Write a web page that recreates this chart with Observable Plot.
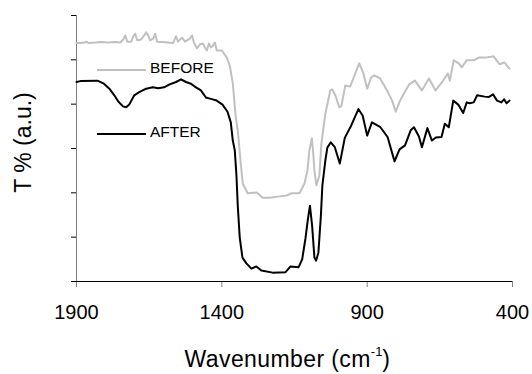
<!DOCTYPE html>
<html>
<head>
<meta charset="utf-8">
<script src="https://cdn.jsdelivr.net/npm/d3@7"></script>
<script src="https://cdn.jsdelivr.net/npm/@observablehq/plot@0.6"></script>
<style>
  html, body { margin: 0; padding: 0; background: #fff; }
  #wrap { position: relative; width: 532px; height: 374px; font-family: "Liberation Sans", Arial, sans-serif; color: #000; }
  #wrap svg { position: absolute; left: 0; top: 0; font-family: "Liberation Sans", Arial, sans-serif; }
  .leg-line { position: absolute; left: 97px; width: 49px; height: 2px; }
  .leg-text { position: absolute; left: 150px; font-size: 15.5px; line-height: 16px; white-space: nowrap; }
  #xtitle { position: absolute; left: 0; width: 575px; top: 348px; text-align: center; font-size: 23px; line-height: 23px; letter-spacing: 0.4px; white-space: nowrap; }
  #xtitle sup { font-size: 13px; line-height: 0; position: relative; top: -2px; vertical-align: super; letter-spacing: 0; }
</style>
</head>
<body>
<div id="wrap"></div>
<script>
// Series names and colours
const seriesNames = ["BEFORE", "AFTER"];
const seriesColors = ["#c0c0c0", "#000000"];

// X tick labels (wavenumber, cm-1)
const xTicks = [1900, 1400, 900, 400];
// Y ticks (arbitrary units, no labels)
const yTicks = [0, 10, 20, 30, 40, 50, 60];

// BEFORE spectrum (grey)
const beforeWave = [1900, 1886.3, 1872.6, 1865.8, 1858.9, 1834.9, 1817.8, 1790.4, 1766.4, 1749.3, 1739.0, 1732.2, 1725.3, 1711.6, 1704.8, 1697.9, 1691.1, 1677.4, 1667.1, 1660.3, 1653.4, 1646.6, 1636.3, 1629.4, 1622.6, 1605.5, 1584.9, 1567.8, 1557.5, 1550.7, 1537.0, 1526.7, 1509.6, 1502.7, 1495.9, 1485.6, 1475.3, 1465.1, 1458.2, 1451.4, 1444.5, 1437.7, 1430.8, 1424.0, 1417.1, 1400.0, 1382.9, 1372.6, 1362.3, 1352.0, 1345.2, 1335.9, 1328.1, 1311.0, 1280.1, 1259.6, 1235.6, 1201.4, 1177.4, 1160.3, 1132.9, 1115.8, 1105.5, 1098.6, 1090.1, 1084.9, 1081.5, 1074.7, 1064.4, 1057.5, 1043.8, 1026.7, 1019.8, 1009.6, 995.9, 989.0, 975.3, 958.2, 941.1, 927.4, 913.7, 900.0, 886.3, 876.0, 855.5, 831.5, 814.4, 801.7, 786.9, 773.3, 756.1, 735.6, 711.6, 687.6, 664.7, 643.1, 622.6, 615.7, 602.0, 584.9, 574.6, 557.5, 533.5, 516.4, 492.4, 465.0, 444.5, 427.4, 417.1, 410.3];
const beforeT = [53.8, 53.8, 53.9, 54.1, 53.8, 53.9, 54.0, 53.9, 54.0, 53.9, 54.6, 55.5, 54.1, 54.1, 55.3, 55.9, 54.4, 54.6, 55.5, 56.2, 55.5, 54.4, 54.8, 55.9, 54.1, 54.0, 53.9, 53.8, 55.3, 54.1, 55.0, 54.1, 54.8, 55.5, 53.9, 52.6, 53.5, 53.7, 52.8, 52.1, 53.7, 52.8, 53.2, 53.9, 52.1, 52.1, 50.5, 48.7, 44.7, 37.0, 34.1, 27.3, 22.1, 19.9, 20.1, 18.9, 18.9, 19.2, 19.4, 19.9, 19.9, 22.1, 25.0, 29.6, 32.3, 28.4, 25.0, 21.7, 23.9, 31.1, 37.9, 43.1, 43.3, 42.0, 39.3, 39.5, 44.2, 44.0, 46.9, 49.2, 47.1, 43.5, 46.0, 46.5, 45.8, 43.1, 40.8, 38.3, 40.8, 42.4, 44.4, 45.3, 43.1, 45.8, 43.1, 44.9, 46.9, 45.3, 49.9, 49.2, 48.3, 49.9, 49.9, 50.5, 50.5, 50.8, 49.0, 49.4, 48.5, 48.0];

// AFTER spectrum (black)
const afterWave = [1900, 1886.3, 1828.1, 1807.5, 1787.0, 1769.9, 1756.2, 1740.1, 1728.8, 1718.5, 1701.4, 1684.2, 1660.3, 1637.3, 1619.2, 1598.6, 1581.5, 1557.5, 1540.4, 1523.3, 1506.2, 1489.0, 1471.9, 1454.8, 1437.7, 1420.5, 1397.6, 1380.5, 1369.2, 1362.3, 1355.5, 1349.7, 1345.2, 1338.4, 1329.1, 1315.4, 1298.3, 1281.2, 1264.0, 1225.3, 1180.8, 1163.7, 1136.3, 1123.6, 1112.3, 1104.4, 1096.9, 1089.4, 1081.5, 1075.7, 1067.8, 1059.2, 1054.1, 1043.8, 1037.0, 1025.0, 1011.3, 994.2, 977.0, 954.8, 930.1, 915.4, 900.0, 883.6, 854.4, 829.8, 805.8, 788.7, 769.8, 750.3, 739.0, 721.9, 711.6, 692.8, 677.4, 663.7, 644.2, 632.8, 619.2, 603.8, 586.7, 569.6, 557.5, 547.5, 533.5, 521.5, 495.9, 482.1, 466.9, 453.2, 438.6, 429.1, 420.5, 410.3];
const afterT = [45.0, 45.2, 45.3, 44.7, 43.5, 42.0, 40.6, 39.5, 39.3, 39.9, 42.0, 42.7, 43.5, 43.8, 43.6, 43.8, 44.4, 45.0, 45.6, 45.0, 44.6, 43.8, 43.1, 41.5, 41.2, 40.9, 39.9, 38.3, 35.9, 31.8, 29.6, 23.9, 17.1, 9.9, 5.4, 4.1, 2.9, 3.4, 2.5, 2.0, 2.1, 3.4, 3.2, 5.0, 9.7, 13.8, 17.1, 12.6, 5.4, 4.7, 6.5, 14.9, 21.7, 27.3, 30.2, 31.4, 30.3, 26.6, 32.4, 35.2, 38.9, 37.4, 32.9, 35.9, 34.8, 32.6, 27.1, 29.8, 30.7, 34.1, 34.8, 32.7, 30.3, 34.6, 31.8, 32.5, 32.6, 35.6, 34.8, 40.8, 39.9, 38.0, 40.4, 40.2, 40.4, 42.0, 41.7, 41.6, 42.2, 40.8, 40.4, 41.1, 40.2, 40.8];

const before = beforeWave.map((w, i) => ({w, t: beforeT[i]}));
const after = afterWave.map((w, i) => ({w, t: afterT[i]}));

const chart = Plot.plot({
  width: 532,
  height: 374,
  marginLeft: 76,
  marginRight: 20,
  marginTop: 15,
  marginBottom: 93,
  style: {fontFamily: "'Liberation Sans', Arial, sans-serif", background: "white", color: "black"},
  x: {domain: [1900, 400]},
  y: {domain: [0, 60]},
  marks: [
    Plot.axisX({ticks: xTicks, tickSize: 6, tickPadding: 17, fontSize: 20, tickFormat: d => String(d), label: null, stroke: "#808080", fill: "black"}),
    Plot.axisY({ticks: yTicks, tickSize: 5, tickFormat: () => "", label: null, stroke: "black"}),
    Plot.ruleX([xTicks[0]], {stroke: "#808080"}),
    Plot.ruleY([yTicks[0]], {stroke: "black"}),
    Plot.line(before, {x: "w", y: "t", stroke: seriesColors[0], strokeWidth: 2}),
    Plot.line(after, {x: "w", y: "t", stroke: seriesColors[1], strokeWidth: 2}),
    Plot.text(["T % (a.u.)"], {frameAnchor: "left", textAnchor: "middle", rotate: -90, dx: -53, dy: -6, fontSize: 23})
  ]
});

const wrap = document.getElementById("wrap");
wrap.appendChild(chart);

// Legend (inside plot area, as in the reference)
const legendTops = [{line: 68.5, text: 60}, {line: 132.5, text: 124.3}];
seriesNames.forEach((name, i) => {
  const ln = document.createElement("div");
  ln.className = "leg-line";
  ln.style.top = legendTops[i].line + "px";
  ln.style.background = seriesColors[i];
  wrap.appendChild(ln);
  const tx = document.createElement("div");
  tx.className = "leg-text";
  tx.style.top = legendTops[i].text + "px";
  tx.textContent = name;
  wrap.appendChild(tx);
});

// X axis title
const xt = document.createElement("div");
xt.id = "xtitle";
xt.innerHTML = "Wavenumber (cm<sup>-1</sup>)";
wrap.appendChild(xt);
</script>
</body>
</html>
